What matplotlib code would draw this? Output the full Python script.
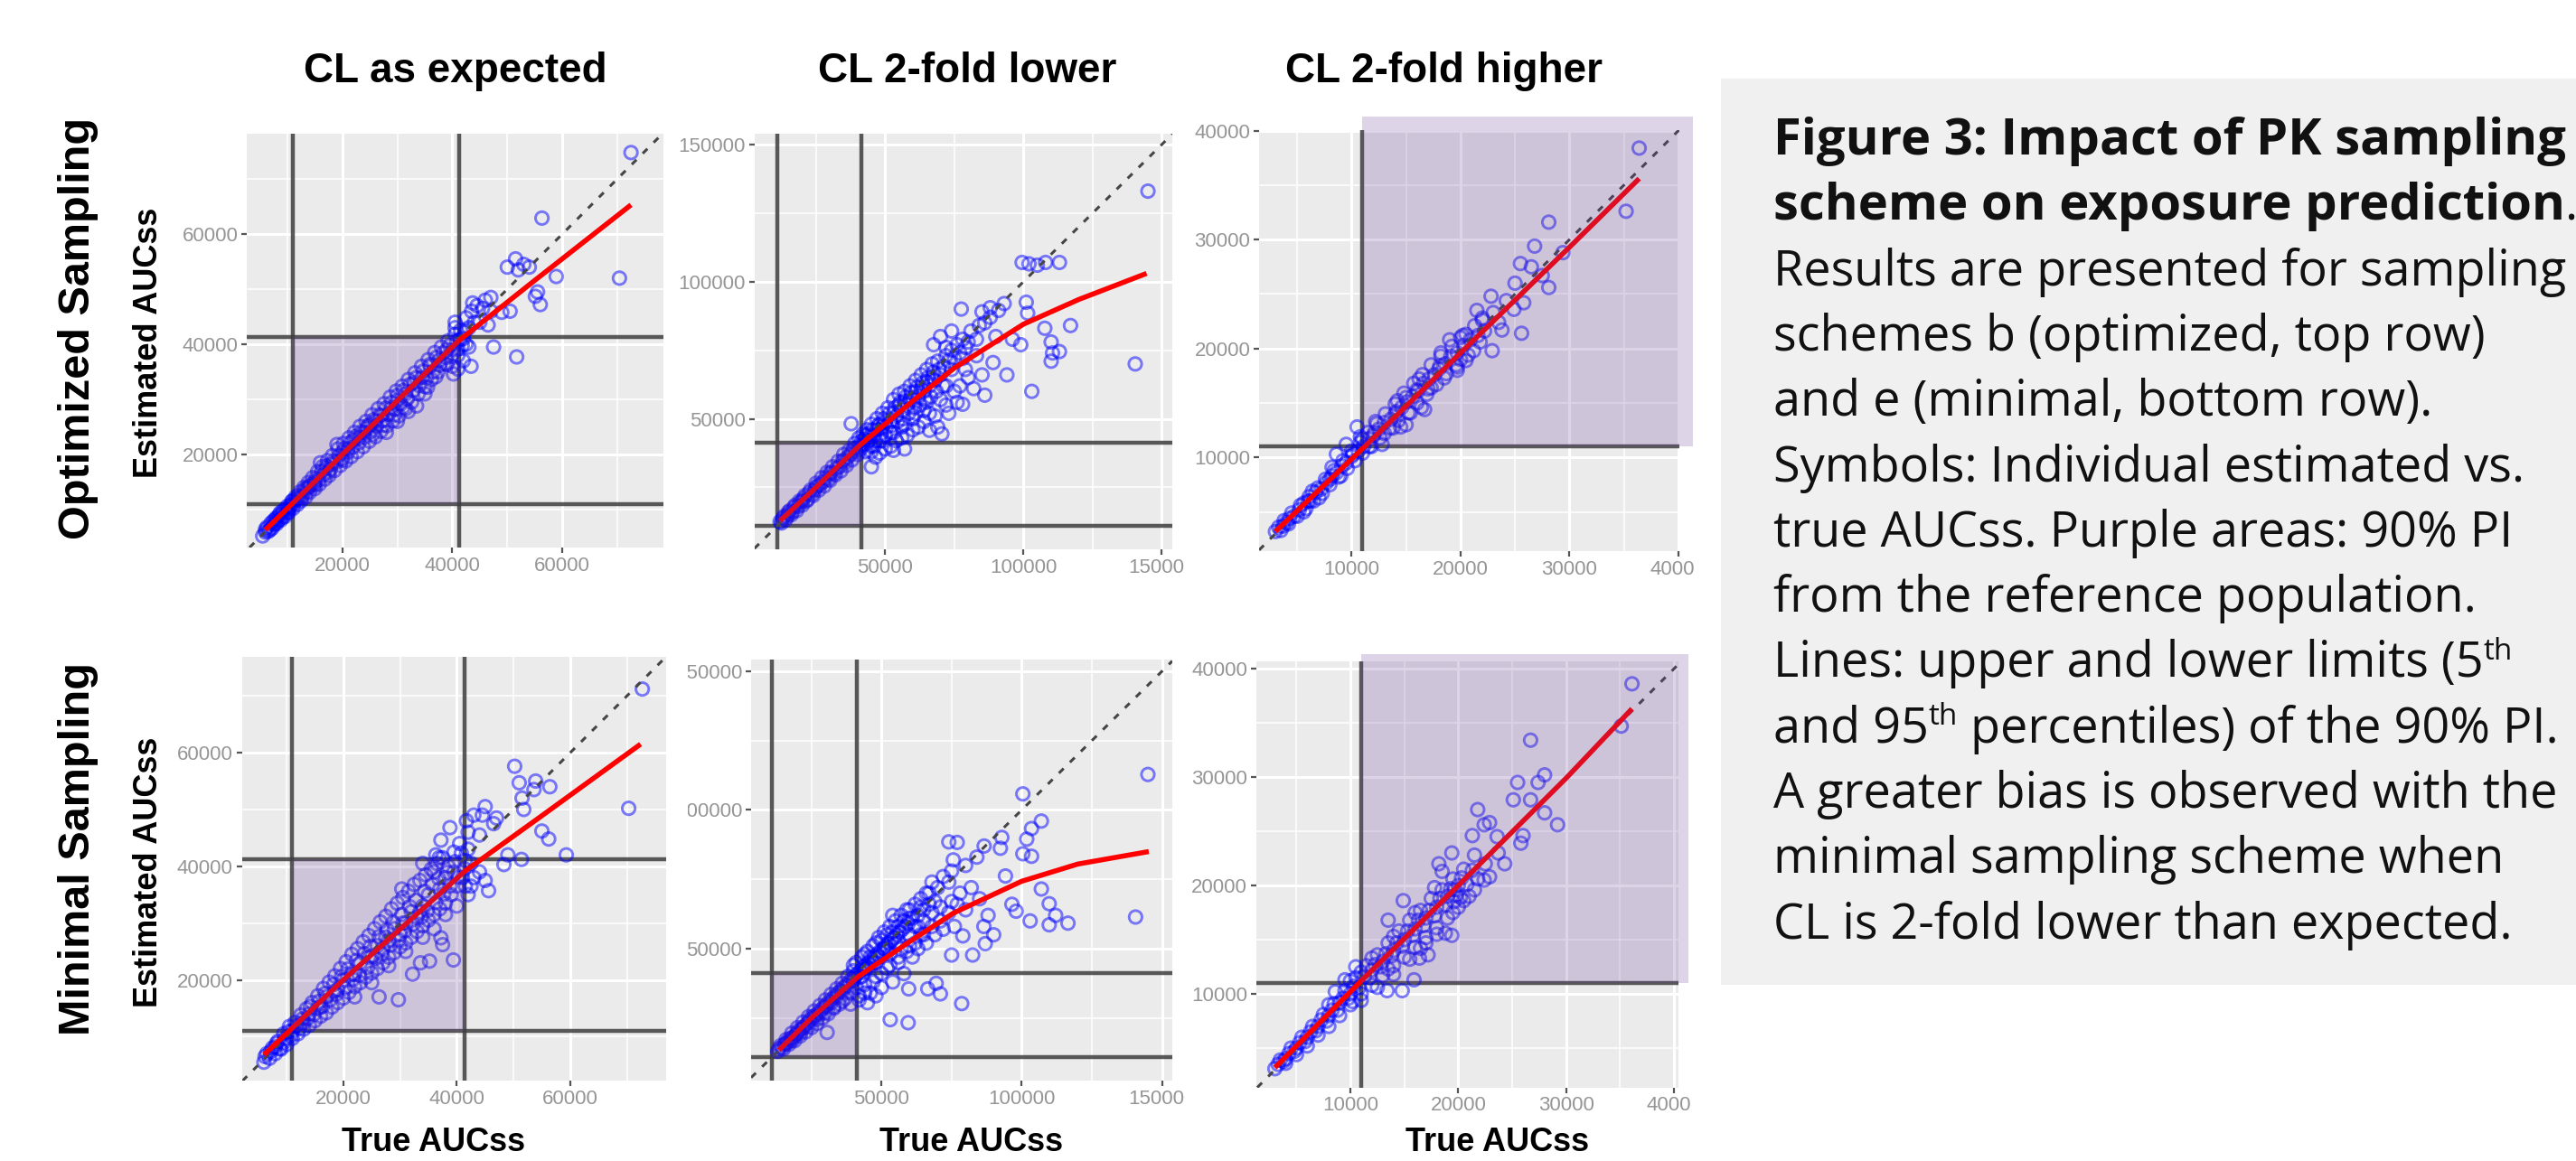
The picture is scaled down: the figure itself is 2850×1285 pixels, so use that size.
import matplotlib
matplotlib.use("Agg")
import matplotlib.pyplot as plt
from matplotlib import font_manager
from matplotlib.transforms import Bbox, TransformedBbox
from matplotlib.patches import Rectangle
import numpy as np

# ---------------------------------------------------------------- data
# values are in thousands (x = true AUCss, y = estimated AUCss)
col_titles = ["CL as expected", "CL 2-fold lower", "CL 2-fold higher"]
row_titles = ["Optimized Sampling", "Minimal Sampling"]
x_title = "True AUCss"
y_title = "Estimated AUCss"

# 5th / 95th percentile of the reference population (90% PI)
pi_low = 11.0
pi_high = 41.3

ticks_expected = [20000, 40000, 60000]
ticks_lower = [50000, 100000, 150000]
ticks_higher = [10000, 20000, 30000, 40000]
minor_expected = [10000, 30000, 50000, 70000]
minor_lower = [25000, 75000, 125000]
minor_higher = [5000, 15000, 25000, 35000]

# --- Optimized sampling, CL as expected
opt_exp_pts = [
    (5.5, 5.2), (6, 6.4), (6.5, 6), (7, 7.5), (7.2, 6.6), (7.8, 8.2), (8, 7.4), (8.5, 9), (8.8, 8.1),
    (9.2, 9.8), (9.5, 8.7), (10, 10.6), (10.2, 9.4), (10.8, 11.5), (11, 10.2), (11.5, 12.3), (11.8, 10.9),
    (12.3, 13.2), (12.5, 11.6), (13, 14), (13.3, 12.2), (13.8, 14.9), (14, 13.1), (14.6, 15.8), (15, 13.8),
    (15.5, 16.9), (15.8, 14.6), (16.4, 17.8), (16.8, 15.5), (17.3, 18.9), (17.6, 16.2), (18.2, 19.8),
    (18.6, 17.1), (19.2, 21), (19.6, 18), (20.2, 22), (20.6, 18.8), (21.2, 23), (21.6, 19.6), (22.2, 24),
    (22.7, 20.5), (23.2, 25.1), (23.8, 21.4), (24.3, 26), (24.9, 22.4), (25.4, 27.2), (26, 23.2),
    (26.5, 28.3), (27, 24.2), (27.6, 29.2), (28.1, 25.2), (28.7, 30.4), (29.2, 26.1), (29.8, 31.5),
    (30.3, 27), (30.9, 32.4), (31.5, 28.3), (32, 33.6), (32.6, 29.5), (33.2, 34.8), (33.8, 31), (34.4, 36),
    (35, 32.3), (35.6, 37.2), (36.2, 33.6), (36.8, 38.5), (37.4, 35), (38, 39.5), (38.6, 36.5),
    (39.2, 40.6), (39.8, 37.8), (40.5, 41.8), (41, 39.2),
    (6, 5.9), (9, 9), (12, 12), (15, 15), (18, 18.2), (21, 21), (24, 24), (27, 27), (30, 29.8), (33, 33),
    (36, 36), (39, 39), (28, 24), (30, 26), (32, 27.8), (33.5, 28.8), (35, 31), (16, 18.5), (19, 21.8),
    (8, 8.5), (11, 11.6), (14, 14.2), (17, 17.4), (20, 20.4), (23, 23), (26, 26), (29, 28.5), (31.5, 31),
    (34.5, 34), (37.5, 37), (22, 22.6), (25, 25.4), (13.5, 13.2), (10.5, 10.4), (7.5, 7.2),
    (40.5, 43), (41.5, 42.5), (42, 41), (42.5, 40), (41, 38), (40, 36), (43, 39.5), (42, 37), (41, 35.5),
    (40.2, 34.6), (43.4, 36), (44, 44), (42.5, 44.8), (43.5, 46), (44.5, 47), (45.5, 46.5), (46, 48),
    (47, 46), (45, 44), (46.5, 43.5), (47.5, 39.5), (49, 45.8), (50.5, 46), (51.7, 37.7), (43.7, 47.5),
    (47, 48.5), (40.5, 44), (43, 43),
    (50, 54), (51.5, 55.5), (53, 54.5), (54, 54), (52, 53.5), (55.1, 48.7), (56, 47.2), (55.5, 49.5),
    (58.9, 52.3), (56.3, 62.9), (70.4, 52), (72.5, 74.8),
]
opt_exp_pts2 = [
    (6.3, 6.8), (6.8, 6.3), (7.4, 7.9), (7.9, 7.6), (8.3, 8.0), (8.7, 9.4), (9.1, 8.6), (9.7, 10.1),
    (10.1, 9.9), (10.6, 10.9), (11.2, 11.1), (11.6, 11.8), (12.1, 12.6), (12.7, 12.3), (13.2, 13.6),
    (13.6, 13.9), (14.2, 14.5), (14.8, 14.6), (15.2, 15.6), (15.7, 15.4), (16.2, 16.9), (16.6, 16.3),
    (17.1, 17.9), (17.8, 17.3), (18.4, 18.8), (18.9, 18.6), (19.4, 19.8), (19.9, 19.3), (20.4, 21.1),
    (21, 20.4), (21.5, 22.2), (21.9, 21.3), (22.5, 23.3), (23, 22.1), (23.5, 24.1), (24, 23.1), (24.6, 25.2),
    (25.1, 24.1), (25.7, 26.3), (26.2, 25.1), (26.8, 27.2), (27.3, 26.1), (27.9, 28.4), (28.4, 27.3),
    (28.9, 29.4), (29.5, 28.2), (30, 30.7), (30.6, 29.2), (31.1, 31.6), (31.8, 30.1), (32.3, 32.7),
    (32.9, 31.6), (33.4, 33.9), (34, 32.5), (34.7, 35.1), (35.3, 33.9), (35.9, 36.3), (36.5, 35),
    (37.1, 37.6), (37.7, 36.2), (38.3, 38.4), (38.9, 37.6), (39.5, 39.8), (40.1, 39), (40.8, 40.6),
    (41.4, 40.8), (41.8, 39.8), (42.3, 42.2), (39, 36.3), (37, 34.1), (35.5, 32.2), (31, 28.5), (29.5, 27.2),
    (27.5, 25.3), (25.5, 23.6), (24.5, 24.8), (20, 19), (17.5, 16.8), (15, 14.4), (12.5, 12.4), (10, 9.5),
]
opt_exp_fit_x = [6, 20, 41, 55, 72.5]
opt_exp_fit_y = [6.3, 20, 40.5, 51.6, 65.3]

# --- Optimized sampling, CL 2-fold lower
opt_low_pts = [
    (12, 12.5), (13, 13.8), (14, 13.2), (15, 16), (16, 15), (17, 17.8), (18, 16.5), (19, 20), (20, 18.5),
    (21, 22), (22, 20.5), (23, 24), (24, 22), (25, 26.5), (26, 24), (27, 28.5), (28, 25.5), (29, 30.5),
    (30, 27.5), (31, 32.5), (32, 29.5), (33, 34.5), (34, 31), (35, 37), (36, 33), (37, 38.5), (38, 35),
    (39, 41), (40, 37), (40.5, 43), (41, 39), (42, 44.5), (42, 40.5), (43, 38), (43.5, 46), (44, 42),
    (45, 48), (45, 40), (46, 44), (46.5, 36), (47, 50), (47, 46), (48, 42), (49, 52), (49, 47), (50, 44),
    (50, 39), (51, 54), (52, 49), (52, 45), (53, 57), (54, 51), (54, 42), (55, 59), (56, 53), (56, 47),
    (57, 60), (58, 55), (58, 44), (59, 62), (60, 57), (60, 50), (61, 64), (62, 58), (62, 47), (63, 66),
    (64, 60), (64, 53), (65, 68), (66, 62), (66, 52), (67, 70), (68, 64), (69, 71), (70, 66), (70, 57),
    (72, 73), (72, 62), (74, 75), (74, 68), (75, 60), (76, 77), (78, 72), (80, 78), (81, 82), (83, 73),
    (84, 84), (86, 85), (85, 66), (88, 87), (80, 65), (82, 61), (76, 56), (73, 52),
    (15, 15.2), (20, 20), (25, 25), (30, 30), (35, 35), (38, 38), (44, 44.5), (48, 48), (53, 52),
    (57, 56.5), (61, 60), (65, 63.5),
    (99.5, 107), (102, 106.5), (105, 106), (108, 107), (113, 107), (145, 133), (140.4, 70), (117, 84),
    (107.7, 83), (110, 78), (110.5, 74), (113, 74.5), (110, 71), (103, 60), (78, 55.3), (86, 58.6),
    (94, 66), (77.5, 90), (85, 89), (88, 90.5), (91, 89.5), (93, 92), (101, 92.5), (101.5, 88.5),
    (67.5, 77), (96, 79), (99, 77), (89, 70.5), (90, 80), (70, 80), (74, 82), (78, 79), (72, 76),
    (69, 47), (70.5, 44.5), (66, 45.8), (53, 38.5), (57, 39), (45, 32.5), (37.7, 48.2),
]
opt_low_pts2 = [
    (12.5, 12), (13.5, 14.5), (14.5, 14.2), (15.5, 16.5), (16.5, 16), (17.5, 18.5), (18.5, 18), (19.5, 19.5),
    (20.5, 21), (21.5, 20), (22.5, 23), (23.5, 22.5), (24.5, 24), (25.5, 25.5), (26.5, 26), (27.5, 27),
    (28.5, 28.5), (29.5, 28), (30.5, 30.5), (31.5, 30), (32.5, 32), (33.5, 32.5), (34.5, 34.5), (35.5, 34),
    (36.5, 36), (37.5, 37), (38.5, 39), (39.5, 38), (40.5, 40), (41.5, 42), (42.5, 42.5), (43.5, 41),
    (44.5, 43.5), (45.5, 46), (46.5, 42), (47.5, 47.5), (48.5, 44.5), (49.5, 50), (50.5, 47), (51.5, 52),
    (52.5, 47.5), (53.5, 54), (54.5, 49), (55.5, 56), (56.5, 50), (57.5, 58), (58.5, 52), (59.5, 59.5),
    (60.5, 54), (61.5, 61.5), (62.5, 55), (63.5, 63), (64.5, 57), (65.5, 65), (66.5, 58), (67.5, 67),
    (68.5, 60), (69.5, 68), (71, 69), (73, 71), (75, 72), (77, 74), (79, 76), (43, 44), (46, 40), (50, 49),
    (55, 55), (59, 57), (63, 61), (67, 65), (71, 62), (65, 56), (61, 52), (57, 48), (53, 45), (49, 42),
    (45, 38), (48, 37.5), (52, 40), (56, 43), (60, 46), (64, 49), (68, 51), (72, 55), (77, 62), (79, 68),
    (83, 79),
]
opt_low_fit_x = [12, 25, 41, 60, 75, 100, 120, 144.5]
opt_low_fit_y = [12.8, 25, 40.5, 56.5, 68.5, 84.5, 93.5, 103]

# --- Optimized sampling, CL 2-fold higher
opt_high_pts = [
    (3, 3.2), (3.5, 3.3), (3.8, 4.2), (4.2, 3.9), (4.5, 4.9), (5, 4.6), (5.3, 5.6), (5.8, 5.3), (6.1, 6.4),
    (6.5, 6), (6.9, 7.2), (7.3, 6.7), (7.6, 8), (8, 7.5), (8.4, 8.8), (8.8, 8.2), (9.2, 9.7), (9.6, 9),
    (10, 10.6), (10.3, 9.7), (10.8, 11.4), (11, 10.4), (11.5, 12.3), (11.8, 11), (12.3, 13.1), (12.6, 11.8),
    (13.1, 14), (13.5, 12.7), (14, 14.9), (14.3, 13.4), (14.8, 15.9), (15.2, 14.1), (15.7, 16.8), (16, 15),
    (16.5, 17.6), (16.9, 15.8), (17.3, 18.5), (17.8, 16.7), (18.2, 19.3), (18.7, 17.7), (19.2, 20.2),
    (19.6, 18.5), (20.2, 21.2), (20.7, 19.4), (21.3, 22.1), (22.2, 21.6), (4, 4), (6, 6), (8, 8),
    (10, 10.1), (12, 12), (14, 14), (16, 16.2), (18, 18.1), (7, 6.3), (9, 8.3), (11, 11.7), (13, 12.2),
    (15, 15.5), (17, 16.3), (12.8, 11.2), (14.5, 12.8), (16.4, 14.6), (9.5, 11.2), (8.6, 10.3), (10.5, 12.8),
    (36.4, 38.4), (35.2, 32.6), (28.1, 31.6), (26.8, 29.4), (25.5, 27.8), (26.5, 27.5), (25, 26),
    (28.1, 25.6), (27.5, 26.7), (29.4, 28.8), (25.6, 21.4), (24.9, 23.6), (25.8, 24.2), (23.8, 21.7),
    (21.5, 23.5), (22.8, 24.8), (22, 22.8), (19.7, 18), (19, 20.8), (20.5, 21.3), (21.2, 19.8), (20, 19),
    (22.9, 19.8), (15, 13), (16.7, 14.4),
]
opt_high_pts2 = [
    (3.3, 3.6), (3.7, 3.7), (4.3, 4.4), (4.7, 4.6), (5.2, 5.2), (5.6, 5.8), (6.2, 6), (6.7, 6.8), (7.2, 7.1),
    (7.7, 7.7), (8.2, 8.3), (8.6, 8.6), (9.1, 9.2), (9.5, 9.5), (10.1, 10.3), (10.6, 10.6), (11.1, 11),
    (11.6, 11.7), (12.1, 12.3), (12.5, 12.6), (13, 13.2), (13.6, 13.5), (14.1, 14.2), (14.6, 14.6),
    (15.1, 15.1), (15.6, 15.6), (16.1, 16.1), (16.6, 16.8), (17.1, 17.2), (17.6, 17.6), (18.1, 18.4),
    (18.6, 18.6), (19.1, 19.3), (19.7, 19.6), (20.3, 20.3), (20.9, 20.8), (21.6, 21.2), (22, 22.6),
    (23, 23.3), (23.5, 22.4), (24.2, 24.4), (17.3, 16.4), (18.5, 17.3), (19.7, 18.3), (20.5, 18.9),
    (21.8, 20.6), (13.8, 12.7), (15.4, 14.1), (11.6, 11), (10.8, 11.9), (12.2, 13.3), (14.2, 15.2),
    (16.2, 17.2), (18.2, 19.6), (20, 21), (8.2, 9.1), (6.4, 6.9), (5.6, 5.0),
]
opt_high_fit_x = [3, 11.2, 20, 30, 36.4]
opt_high_fit_y = [3.2, 11, 19.6, 29.3, 35.6]

# --- Minimal sampling, CL as expected
min_exp_pts = [
    (6, 5.5), (6.5, 7), (7, 6.2), (7.5, 8), (8, 7), (8.5, 9.2), (9, 7.8), (9.5, 10.5), (10, 8.6),
    (10.5, 11.8), (11, 9.7), (11.5, 12.5), (12, 10.5), (12.5, 13.8), (13, 11.3), (13.5, 14.9), (14, 12),
    (14.5, 16), (15, 12.8), (15.5, 17.2), (16, 13.6), (16.5, 18.5), (17, 14.2), (17.5, 19.6), (18, 15.2),
    (18.5, 20.7), (19, 16), (19.5, 22), (20, 16.8), (20.5, 23.2), (21, 17.8), (21.5, 24.5), (22, 18.8),
    (22.5, 25.5), (23, 19.5), (23.5, 26.7), (24, 20.5), (24.5, 27.8), (25, 21.2), (25.5, 29), (26, 22),
    (26.5, 30.2), (27, 23), (27.5, 31.2), (28, 24), (28.5, 32.5), (29, 24.8), (29.5, 33.5), (30, 25.8),
    (30.5, 34.5), (31, 26.5), (31.5, 35.6), (32, 27.5), (32.5, 36.8), (33, 28.5), (33.5, 37.5), (34, 29.5),
    (34.5, 38.5), (35, 30.5), (35.5, 39.5), (36, 31.5), (36.5, 40.5), (37, 32.5), (37.5, 41.5), (38, 33.5),
    (38.5, 40), (39, 35), (39.5, 42.5), (40, 36.5), (40.5, 44), (41, 38), (41.5, 41), (42, 43), (40, 33),
    (42, 35), (8, 8.2), (11, 11), (14, 14), (17, 17), (20, 20), (23, 23), (26, 26), (29, 29), (32, 32),
    (35, 35), (38, 38), (22, 21), (25, 24.2), (28, 27), (31, 30), (34, 33), (16, 15.2), (19, 18.3),
    (13, 12.4), (37, 36), (30, 28), (27, 25.5), (33, 31),
    (72.7, 71.2), (70.3, 50.2), (50.2, 57.6), (51, 54.7), (53.6, 53.5), (53.9, 55), (56.4, 54), (51.5, 52),
    (51.8, 50), (55, 46.2), (56.2, 44.8), (59.3, 42), (51.4, 41.2), (49, 42), (48.3, 40.3), (44.5, 49),
    (46.5, 47.5), (45, 50.5), (47, 48.5), (38.8, 46.8), (37.2, 44.6), (36.3, 42), (36.9, 41.5), (41.7, 48),
    (43, 49), (42, 46), (44, 45.5), (45.6, 35.7), (43, 38), (45, 37.5), (42.5, 36.5), (44, 39), (34, 40.5),
    (36, 39), (39.4, 23.5), (37.2, 27.4), (37.5, 26.2), (35.2, 23.3), (33.6, 23), (32.2, 21), (26.3, 17),
    (29.7, 16.5), (30.3, 36),
]
min_exp_pts2 = [
    (6.2, 6.5), (7.2, 7.4), (8.2, 8.8), (8.8, 7.9), (9.7, 9.6), (10.3, 10.9), (10.8, 10.2), (11.7, 11.9),
    (12.3, 11.5), (12.8, 13.1), (13.7, 13.2), (14.2, 15.3), (14.8, 13.9), (15.7, 16.2), (16.3, 15.3),
    (16.8, 17.6), (17.7, 16.5), (18.3, 19.2), (18.8, 17.5), (19.7, 20.6), (20.3, 18.6), (20.8, 21.9),
    (21.7, 20.1), (22.3, 23.4), (22.8, 20.8), (23.7, 24.6), (24.3, 22.2), (24.8, 25.9), (25.7, 23.8),
    (26.3, 27.6), (26.8, 24.6), (27.7, 28.8), (28.3, 26.1), (28.8, 30.1), (29.7, 27.1), (30.3, 31.5),
    (30.8, 28.6), (31.7, 32.9), (32.3, 29.8), (32.8, 34), (33.7, 31), (34.3, 35.6), (34.8, 32.2),
    (35.7, 36.8), (36.3, 33.6), (36.8, 37.9), (37.7, 35.1), (38.3, 38.9), (38.8, 36.5), (39.7, 40.8),
    (40.3, 38.1), (40.8, 42.3), (41.3, 39.6), (39.5, 39), (42.5, 40.5), (41.5, 36.5), (38, 31.5), (36, 29),
    (34, 27.5), (31, 25), (28, 22.5), (25, 19.5), (22, 17), (33.5, 32), (30.5, 30), (27.5, 27.5), (24.5, 24),
    (21.5, 21), (18.5, 18), (15.5, 15), (12.5, 12.3), (9.5, 9),
]
min_exp_fit_x = [6, 20, 41.5, 55, 72.4]
min_exp_fit_y = [6.8, 20, 39.2, 48.9, 61.5]

# --- Minimal sampling, CL 2-fold lower
min_low_pts = [
    (13, 13), (14, 15), (15, 13.8), (16, 17.2), (17, 15.5), (18, 19.5), (19, 16.8), (20, 21.5), (21, 18.5),
    (22, 23.5), (23, 20), (24, 25.5), (25, 21.5), (26, 27.5), (27, 23), (28, 29.5), (29, 25), (30, 31.5),
    (31, 26.5), (32, 33.5), (33, 28.5), (34, 35.5), (35, 30), (36, 37.5), (37, 32), (38, 40), (39, 34),
    (40, 42), (41, 36), (41, 45), (42, 33), (43, 47), (43, 40), (44, 37), (45, 49), (45, 43), (46, 34),
    (47, 51), (47, 45), (48, 40), (49, 54), (49, 47), (50, 36), (51, 56), (51, 50), (52, 43), (53, 58),
    (53, 48), (54, 38), (55, 60), (55, 52), (56, 45), (57, 62), (57, 50), (58, 41), (59, 64), (60, 55),
    (61, 47), (62, 66), (62, 58), (63, 50), (64, 68), (65, 60), (66, 52), (67, 70), (68, 63), (69, 55),
    (70, 72), (71, 65), (72, 57), (74, 74), (75, 67), (76, 58), (78, 70), (80, 64), (82, 72), (85, 68),
    (28, 26.5), (32, 30.5), (36, 34.5), (40, 38.5), (44, 42.5), (48, 45), (52, 49.5), (56, 52.5), (60, 51),
    (64, 55), (20, 19.5), (24, 23.5), (16, 15.8), (18, 17.5), (22, 21.5), (26, 25), (30, 29), (34, 32.5),
    (38, 36.5), (42, 39.5), (46, 47), (50, 53), (54, 56), (58, 60), (45, 30.5), (48, 33), (39, 30),
    (42, 31.5), (30.6, 19.8),
    (145, 112.8), (140.6, 61.4), (100.4, 105.8), (107, 96), (103.5, 93.3), (101.8, 89.5), (100.4, 84.2),
    (103.5, 83.3), (92.9, 90.1), (92.4, 86.2), (86.6, 87), (74, 88.5), (77, 88.3), (75.6, 82), (94.2, 76.2),
    (107, 71.5), (109.8, 66.2), (112.1, 62), (109.8, 58.6), (116.5, 59.2), (103, 60), (96.5, 66), (98, 63.5),
    (87, 51.8), (82.5, 47.7), (79, 54.6), (75, 47.7), (78.6, 30.2), (53.1, 24.4), (59.5, 23.3), (71, 33.7),
    (66.5, 35.5), (69.5, 37.5), (59.7, 35.5), (75, 78), (80, 80), (84, 83), (86.5, 58), (90, 55), (88, 62),
    (68, 74), (72, 76), (66, 70), (54, 62), (60, 64), (63, 58),
]
min_low_pts2 = [
    (13.5, 14), (14.5, 14.2), (15.5, 15.6), (16.5, 16.4), (17.5, 17.8), (18.5, 18), (19.5, 19), (20.5, 20.5),
    (21.5, 21), (22.5, 22), (23.5, 23), (24.5, 24.5), (25.5, 25.5), (26.5, 26), (27.5, 27), (28.5, 28),
    (29.5, 29), (30.5, 30), (31.5, 31), (32.5, 32), (33.5, 33), (34.5, 34), (35.5, 35), (36.5, 36),
    (37.5, 37), (38.5, 38), (39.5, 39), (40.5, 40), (41.5, 41), (42.5, 42), (43.5, 43.5), (44.5, 44),
    (45.5, 45), (46.5, 46), (47.5, 47), (48.5, 48), (49.5, 49), (50.5, 50), (51.5, 51), (52.5, 52),
    (53.5, 53), (54.5, 54), (55.5, 55), (56.5, 56), (57.5, 57), (58.5, 58), (59.5, 59), (61, 61), (63, 62),
    (65, 64), (67, 66), (69, 67), (44, 34), (47, 38), (50, 41), (53, 44), (56, 47), (59, 49), (62, 52),
    (65, 55), (68, 58), (71, 60), (74, 63), (77, 66), (36, 31), (33, 29), (30, 27), (27, 24.5), (24, 22),
    (21, 19.5), (18, 16.8), (40, 44), (44, 48), (48, 52), (52, 55), (56, 58), (60, 61), (64, 65),
]
min_low_fit_x = [13.4, 25, 41.8, 60, 75.6, 100, 120, 145.3]
min_low_fit_y = [13.4, 25, 40, 52.5, 62.8, 74.3, 80.5, 85]

# --- Minimal sampling, CL 2-fold higher
min_high_pts = [
    (3, 3.1), (3.5, 3.9), (4, 3.6), (4.5, 5), (5, 4.4), (5.5, 6), (6, 5.2), (6.5, 7), (7, 6.2), (7.5, 8.1),
    (8, 7), (8.5, 9.1), (9, 8), (9.5, 10.3), (10, 9), (10.5, 11.5), (11, 10), (11.5, 12.6), (12, 10.8),
    (12.5, 13.6), (13, 11.7), (13.5, 14.7), (14, 12.6), (14.5, 15.8), (15, 13.4), (15.5, 16.8), (16, 14.3),
    (16.5, 17.7), (17, 15.2), (17.5, 18.8), (18, 16.1), (18.5, 19.6), (19, 17), (19.5, 20.6), (20, 18),
    (20.5, 21.5), (21, 19), (4, 4), (6, 6), (8, 8), (10, 10), (12, 12.2), (14, 14), (16, 16), (18, 18),
    (20, 20), (11, 12), (13, 13), (15, 15), (17, 17), (19, 19), (9, 9.2), (7, 7), (5, 5), (9.5, 11.3),
    (8.6, 10.2), (10.5, 12.5), (16.5, 14.2), (18, 15.5),
    (36.1, 38.6), (35.1, 34.7), (26.7, 33.4), (25.5, 29.5), (27.4, 29.5), (28, 30.2), (25.1, 27.9),
    (26.7, 27.9), (28, 26.7), (29.2, 25.6), (21.8, 27), (22.4, 25.6), (22.9, 25.8), (21.3, 24.6),
    (23.6, 24.5), (26, 24.6), (25.8, 23.9), (24.3, 22), (23.7, 23), (19.4, 23), (18.2, 22), (18.5, 21.3),
    (22.4, 20.5), (21.5, 19.6), (22.9, 20.8), (20.2, 18.9), (19.6, 19.6), (14.9, 18.6), (13.5, 16.8),
    (19.4, 15.4), (18.8, 15.6), (17.2, 13.6), (16.4, 13.3), (15.9, 11.3), (13.4, 10.3), (14.8, 10.3),
    (19.6, 18.5),
]
min_high_pts2 = [
    (3.3, 3.5), (3.8, 3.8), (4.3, 4.5), (4.8, 4.7), (5.3, 5.5), (5.8, 5.6), (6.3, 6.5), (6.8, 6.6),
    (7.3, 7.6), (7.8, 7.5), (8.3, 8.5), (8.8, 8.5), (9.3, 9.6), (9.8, 9.6), (10.3, 10.7), (10.8, 10.6),
    (11.3, 11.6), (11.8, 11.5), (12.3, 12.7), (12.8, 12.5), (13.3, 13.7), (13.8, 13.5), (14.3, 14.7),
    (14.8, 14.4), (15.3, 15.8), (15.8, 15.4), (16.3, 16.8), (16.8, 16.3), (17.3, 17.7), (17.8, 17.2),
    (18.3, 18.8), (18.8, 18.2), (19.3, 19.7), (19.8, 19.1), (20.3, 20.7), (20.8, 20.1), (21.3, 21.4),
    (21.8, 20.6), (22.5, 22), (17, 14.7), (15.5, 13.2), (14, 11.8), (12.5, 10.6), (11, 9.4), (19.5, 17.5),
    (20.5, 18.6), (21.5, 22.8), (17.8, 19.8), (16, 17.5), (14, 15.3), (12, 13.3), (10, 11.2), (8, 9),
    (10.2, 9.3), (13.5, 12.3),
]
min_high_fit_x = [3, 11, 20, 30, 36.1]
min_high_fit_y = [3.2, 11.2, 20, 29.9, 36.3]

caption_lines = [
    [("Figure 3: Impact of PK sampling", "b")],
    [("scheme on exposure prediction", "b"), (".", "n")],
    [("Results are presented for sampling", "n")],
    [("schemes b (optimized, top row)", "n")],
    [("and e (minimal, bottom row).", "n")],
    [("Symbols: Individual estimated vs.", "n")],
    [("true AUCss. Purple areas: 90% PI", "n")],
    [("from the reference population.", "n")],
    [("Lines: upper and lower limits (5", "n"), ("th", "s")],
    [("and 95", "n"), ("th", "s"), (" percentiles) of the 90% PI.", "n")],
    [("A greater bias is observed with the", "n")],
    [("minimal sampling scheme when", "n")],
    [("CL is 2-fold lower than expected.", "n")],
]

# ---------------------------------------------------------------- style
W, H = 2850, 1285
K = 1000.0
_avail = {f.name for f in font_manager.fontManager.ttflist}


def pick(*names):
    for n in names:
        if n in _avail:
            return n
    return "DejaVu Sans"


SANS = pick("Liberation Sans", "Arimo", "DejaVu Sans")
BODY = pick("Open Sans", "Liberation Sans", "DejaVu Sans")

fig = plt.figure(figsize=(W / 100, H / 100), dpi=100)
fig.patch.set_facecolor("white")


def fig_box(x0, y0, x1, y1):
    return [x0 / W, 1 - y1 / H, (x1 - x0) / W, (y1 - y0) / H]


def pix_clip(x0=0, x1=W):
    return TransformedBbox(Bbox.from_extents(x0 / W, 0, x1 / W, 1), fig.transFigure)


panels = [
    dict(box=(273, 147.5, 734, 606), xlim=(2.6, 78.4), ylim=(3.1, 78.3),
         major=ticks_expected, minor=minor_expected, pts=opt_exp_pts + opt_exp_pts2,
         fx=opt_exp_fit_x, fy=opt_exp_fit_y, clip=None),
    dict(box=(834.6, 147.5, 1297, 608), xlim=(2.7, 153.8), ylim=(2.4, 154.1),
         major=ticks_lower, minor=minor_lower, pts=opt_low_pts + opt_low_pts2,
         fx=opt_low_fit_x, fy=opt_low_fit_y, clip=(0, 1310)),
    dict(box=(1393, 144, 1857.5, 610), xlim=(1.5, 40.05), ylim=(1.4, 40.05),
         major=ticks_higher, minor=minor_higher, pts=opt_high_pts + opt_high_pts2,
         fx=opt_high_fit_x, fy=opt_high_fit_y, clip=(0, 1875)),
    dict(box=(267.5, 726.8, 737, 1196.4), xlim=(2.1, 76.9), ylim=(2.2, 76.9),
         major=ticks_expected, minor=minor_expected, pts=min_exp_pts + min_exp_pts2,
         fx=min_exp_fit_x, fy=min_exp_fit_y, clip=None),
    dict(box=(831, 730.4, 1297, 1196.4), xlim=(3.5, 153.7), ylim=(2.3, 154.1),
         major=ticks_lower, minor=minor_lower, pts=min_low_pts + min_low_pts2,
         fx=min_low_fit_x, fy=min_low_fit_y, clip=(761, 1311)),
    dict(box=(1389.6, 732, 1857.5, 1203.6), xlim=(1.25, 40.45), ylim=(1.37, 40.67),
         major=ticks_higher, minor=minor_higher, pts=min_high_pts + min_high_pts2,
         fx=min_high_fit_x, fy=min_high_fit_y, clip=(0, 1870)),
]

for p in panels:
    ax = fig.add_axes(fig_box(*p["box"]))
    ax.set_facecolor("#EBEBEB")
    for s in ax.spines.values():
        s.set_visible(False)
    ax.set_xlim(p["xlim"][0] * K, p["xlim"][1] * K)
    ax.set_ylim(p["ylim"][0] * K, p["ylim"][1] * K)
    ax.set_xticks(p["major"])
    ax.set_yticks(p["major"])
    ax.set_xticks(p["minor"], minor=True)
    ax.set_yticks(p["minor"], minor=True)
    ax.set_xticklabels([str(v) for v in p["major"]], family=SANS)
    ax.set_yticklabels([str(v) for v in p["major"]], family=SANS)
    ax.tick_params(which="major", length=4.5, width=1.6, color="#555555",
                   labelsize=16, labelcolor="#959595", pad=2.5)
    ax.tick_params(which="minor", length=0)
    ax.grid(which="major", color="white", lw=2.2)
    ax.grid(which="minor", color="white", lw=1.1)
    ax.set_axisbelow(True)

    # reference-population limits
    for v in (pi_low, pi_high):
        ax.axvline(v * K, color="#3d3d3d", lw=3.2, alpha=0.85, zorder=2)
        ax.axhline(v * K, color="#3d3d3d", lw=3.2, alpha=0.85, zorder=2)

    pts = np.array(p["pts"], dtype=float)
    ax.scatter(pts[:, 0] * K, pts[:, 1] * K, s=105, facecolors="none",
               edgecolors=(0, 0, 1, 0.5), linewidths=2.1, zorder=3)

    ax.axline((0, 0), (1, 1), color="#454545", lw=2.2, dashes=(2.4, 3.2), zorder=4)
    ax.plot(np.array(p["fx"]) * K, np.array(p["fy"]) * K, color="#ff0000",
            lw=4.0, zorder=5, solid_capstyle="butt")

    ax.add_patch(Rectangle((pi_low * K, pi_low * K), (pi_high - pi_low) * K,
                           (pi_high - pi_low) * K, facecolor="#6a3d9a", alpha=0.22,
                           edgecolor="none", zorder=6, clip_on=False))

    if p["clip"] is not None:
        cb = pix_clip(*p["clip"])
        for t in ax.xaxis.get_major_ticks() + ax.yaxis.get_major_ticks():
            t.label1.set_clip_box(cb)
            t.label1.set_clip_on(True)

# ---------------------------------------------------------------- titles and labels
for txt, cx in zip(col_titles, (504, 1070, 1598)):
    fig.text(cx / W, 1 - 91 / H, txt, ha="center", va="baseline",
             fontsize=33, weight="bold", family=SANS)

for txt, cy in zip(row_titles, (363, 940)):
    fig.text(87 / W, 1 - cy / H, txt, ha="center", va="center", rotation=90,
             fontsize=35, weight="bold", family=SANS)

for cy in (379, 965):
    fig.text(165 / W, 1 - cy / H, y_title, ha="center", va="center", rotation=90,
             fontsize=26, weight="bold", family=SANS)

for cx in (480, 1075, 1657):
    fig.text(cx / W, 1 - 1274 / H, x_title, ha="center", va="baseline",
             fontsize=26, weight="bold", family=SANS)

# ---------------------------------------------------------------- caption box
fig.add_artist(Rectangle((1904 / W, 1 - 1090 / H), (W - 1904) / W, (1090 - 87) / H,
                         transform=fig.transFigure, facecolor="#f0f0f0",
                         edgecolor="none", zorder=0))

renderer = fig.canvas.get_renderer()


def tw(s, size, weight="normal"):
    t = fig.text(0, 0, s, fontsize=size, weight=weight, family=BODY)
    w = t.get_window_extent(renderer).width
    t.remove()
    return w


def adv(s, size, weight="normal"):
    return tw("x" + s + "x", size, weight) - tw("xx", size, weight)


body_size = 40 * 876 / tw("Results are presented for sampling", 40)
head_size = 40 * 876 / tw("Figure 3: Impact of PK sampling", 40, "bold")
sup_size = body_size * 0.62
px_per_pt = 100 / 72.0

x_start = 1962
for i, segs in enumerate(caption_lines):
    base = 171 + 72.3 * i
    x = x_start
    for s, kind in segs:
        if kind == "b":
            size, weight, dy = head_size, "bold", 0
        elif kind == "s":
            size, weight, dy = sup_size, "normal", body_size * px_per_pt * 0.36
        else:
            size, weight, dy = body_size, "normal", 0
        fig.text(x / W, 1 - (base - dy) / H, s, ha="left", va="baseline",
                 fontsize=size, weight=weight, family=BODY, color="#111111")
        x += adv(s, size, weight)

fig.savefig("out.png", dpi=100, facecolor="white")
